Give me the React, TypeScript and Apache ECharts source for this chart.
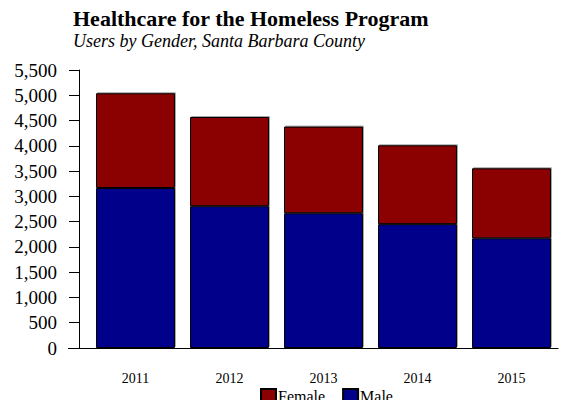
import React, { useEffect, useRef } from "react";
import * as echarts from "echarts";

const years = ["2011", "2012", "2013", "2014", "2015"];
const female = [1875, 1765, 1715, 1560, 1385];
const male = [3165, 2805, 2665, 2450, 2170];
const yTicks = { min: 0, max: 5500, interval: 500 };

const FONT = "'Liberation Serif', 'DejaVu Serif', serif";

export default function App() {
  const ref = useRef<HTMLDivElement>(null);
  useEffect(() => {
    if (!ref.current) return;
    const chart = echarts.init(ref.current, null, { renderer: "svg" });
    const barStyle = (color: string) => ({
      color,
      borderColor: "#000",
      borderWidth: 1,
      shadowColor: "rgba(0,0,0,0.35)",
      shadowBlur: 0,
      shadowOffsetX: 1,
      shadowOffsetY: -1,
    });
    chart.setOption({
      animation: false,
      textStyle: { fontFamily: FONT },
      title: {
        text: "Healthcare for the Homeless Program",
        subtext: "Users by Gender, Santa Barbara County",
        left: 68,
        top: 2,
        itemGap: 3,
        textStyle: { fontFamily: FONT, fontSize: 22, fontWeight: "bold", color: "#000" },
        subtextStyle: { fontFamily: FONT, fontSize: 18, fontStyle: "italic", color: "#000" },
      },
      legend: {
        data: ["Female", "Male"],
        left: 255,
        top: 383,
        itemWidth: 15,
        itemHeight: 15,
        itemGap: 17,
        icon: "rect",
        textStyle: { fontFamily: FONT, fontSize: 16, color: "#000", padding: [0, 0, 0, -3] },
      },
      grid: { left: 88.5, right: 2.5, top: 70, bottom: 52, containLabel: false },
      xAxis: {
        type: "category",
        data: years,
        axisLine: { show: false },
        axisTick: { show: false },
        axisLabel: { fontFamily: FONT, fontSize: 14, color: "#000", margin: 23 },
      },
      yAxis: {
        type: "value",
        min: yTicks.min,
        max: yTicks.max,
        interval: yTicks.interval,
        offset: 9.5,
        splitLine: { show: false },
        axisLine: { show: true, lineStyle: { color: "#000", width: 1 } },
        axisTick: { show: true, length: 10, lineStyle: { color: "#000" } },
        axisLabel: {
          fontFamily: FONT,
          fontSize: 19,
          color: "#000",
          margin: 22,
          formatter: (v: number) => v.toLocaleString("en-US"),
        },
      },
      graphic: [
        {
          type: "line",
          shape: { x1: 68, y1: 348.5, x2: 558.5, y2: 348.5 },
          style: { stroke: "#000", lineWidth: 1 },
          z: 10,
        },
      ],
      series: [
        {
          name: "Male",
          type: "bar",
          stack: "total",
          data: male,
          barCategoryGap: "16%",
          itemStyle: barStyle("#00008B"),
        },
        {
          name: "Female",
          type: "bar",
          stack: "total",
          data: female,
          barCategoryGap: "16%",
          itemStyle: barStyle("#8B0000"),
        },
      ],
    });
    return () => chart.dispose();
  }, []);
  return <div ref={ref} style={{ width: 561, height: 400, position: "absolute", left: 0, top: 0 }} />;
}
